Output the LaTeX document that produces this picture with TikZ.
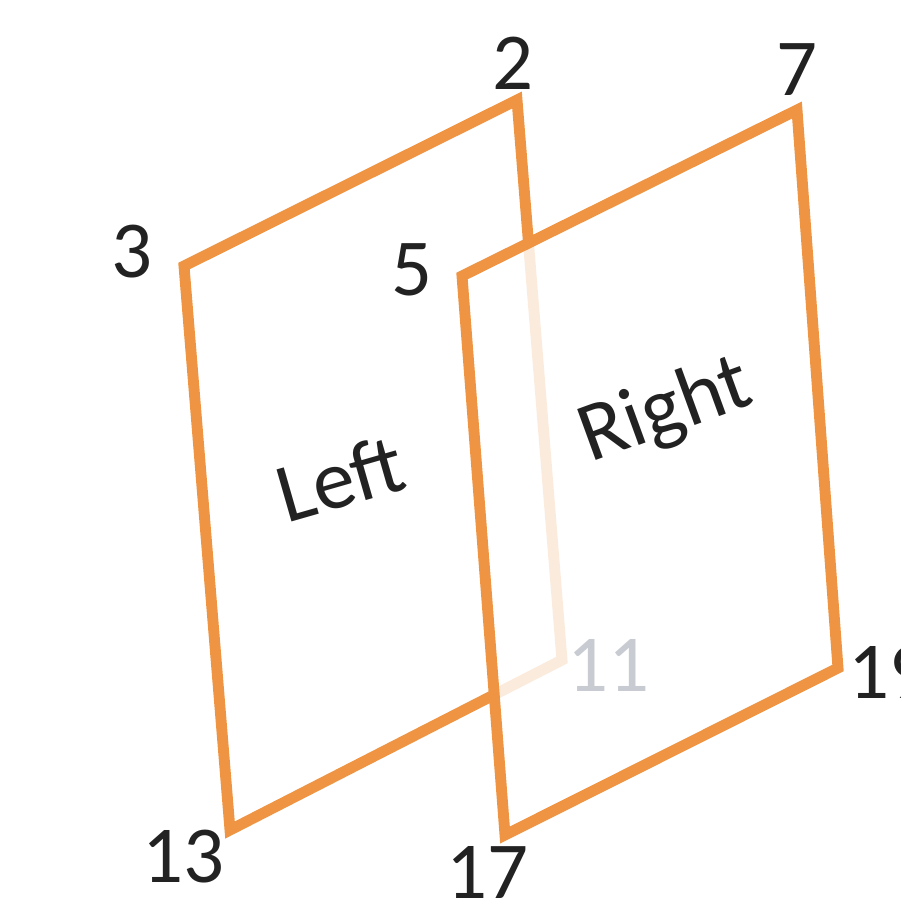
\documentclass[tikz,border=0pt]{standalone}
\usepackage{fontspec}
\setmainfont{Carlito}
\usepackage{tikz}
\usetikzlibrary{positioning}
\definecolor{frameorange}{RGB}{238,148,66}
\definecolor{labelink}{RGB}{34,34,34}
\definecolor{hiddenink}{RGB}{200,204,210}
\tikzset{
  pane/.style={draw=frameorange,line width=3.1pt,line join=miter},
  corner/.style={text=labelink,font=\fontsize{23}{27}\selectfont,inner sep=0pt},
  panelabel/.style={text=labelink,font=\fontsize{24}{28}\selectfont,inner sep=0pt}
}

\begin{document}
\begin{tikzpicture}[x=0.1mm,y=-0.1mm]
  \useasboundingbox (0,0) rectangle (900,903);
  \clip (0,0) rectangle (900,903);
  % corners of the two panes
  \coordinate (c3) at (184,266);
  \coordinate (c2) at (517,100);
  \coordinate (c11) at (562,660);
  \coordinate (c13) at (230,830);
  \coordinate (c5) at (462,276);
  \coordinate (c7) at (797,110);
  \coordinate (c19) at (838,668);
  \coordinate (c17) at (505,835);
  % left pane, then the right pane in front of it
  \draw[pane] (c3) -- (c2) -- (c11) -- (c13) -- cycle;
  \fill[white,opacity=0.82] (c5) -- (c7) -- (c19) -- (c17) -- cycle;
  \draw[pane] (c5) -- (c7) -- (c19) -- (c17) -- cycle;
  % corner numbers
  \node[corner] (n3) at (132,252) {3};
  \node[corner] (n2) at (513,63) {2};
  \node[corner] (n5) at (412,270) {5};
  \node[corner] (n7) at (797,70) {7};
  \node[corner,text=hiddenink] (n11) at (608,665) {11};
  \node[corner,anchor=west] (n19) at (848,672) {19};
  \node[corner] (n13) at (183,857) {13};
  \node[corner] (n17) at (487,872) {17};
  % pane names
  \node[panelabel,rotate=16] (left) at (340,478) {Left};
  \node[panelabel,rotate=20] (right) at (666,412) {Right};
\end{tikzpicture}
\end{document}
